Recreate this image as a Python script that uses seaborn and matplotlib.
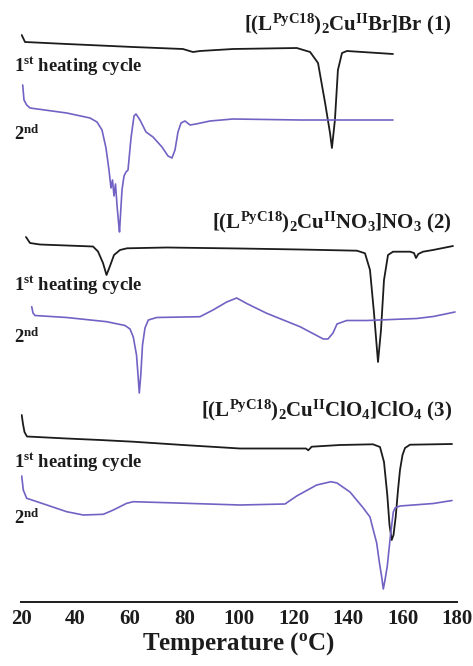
# DSC traces (1st and 2nd heating cycles) for the three Cu(II) complexes.
# Curves are stacked with vertical offsets, so the y values are arbitrary
# heat-flow units (no y axis is shown).

import matplotlib
matplotlib.use("Agg")
import matplotlib.pyplot as plt
import seaborn as sns

# data
# ---

# complex 1, Br
br_1st_T = [20.26, 21.47, 36.8, 61.1, 79.4, 83.1, 85.7, 97.8, 121.2, 126.1,
            129.0, 131.6, 133.4, 134.1, 135.2, 136.3, 137.8, 139.6, 156.5]
br_1st_y = [567, 560, 558, 555, 553, 550, 551, 553, 554, 550,
            539, 499, 469, 454, 482, 532, 549, 551, 548]

br_2nd_T = [20.62, 21.10, 22.09, 23.30, 36.77, 45.32, 47.89, 49.72, 51.19, 52.29,
            53.03, 53.58, 54.13, 54.68, 55.23, 55.78, 56.15, 56.51, 57.06, 57.80,
            58.53, 59.27, 60.37, 61.47, 62.20, 63.67, 65.87, 68.44, 71.74, 73.94,
            75.41, 76.51, 77.61, 78.72, 80.18, 82.02, 84.22, 89.36, 97.80, 122.39,
            156.51]
br_2nd_y = [517, 502, 497, 494, 489, 484, 480, 472, 454, 432,
            414, 422, 406, 418, 397, 380, 370, 387, 412, 426,
            430, 432, 464, 486, 488, 482, 470, 465, 455, 446,
            444, 452, 470, 479, 481, 477, 478, 481, 483, 482,
            482]

# complex 2, NO3
no3_1st_T = [21.83, 23.30, 26.97, 36.77, 46.42, 48.26, 50.09, 51.38, 52.66, 54.13,
             56.33, 58.90, 73.58, 100.37, 122.39, 143.30, 146.24, 148.07, 149.54,
             151.01, 152.11, 153.21, 154.68, 156.51, 162.75, 164.22, 164.95, 165.80,
             167.52, 171.19, 178.53]
no3_1st_y = [365, 359, 357.5, 356.5, 355.5, 350.5, 339, 327, 336, 347,
             352, 353.7, 354.5, 353.5, 352.5, 351.3, 348.7, 332, 289,
             240, 272, 322, 347, 350.3, 350.3, 349, 344, 348,
             350.3, 352, 356]

no3_2nd_T = [23.93, 24.40, 25.14, 36.77, 51.45, 58.17, 60.0, 61.21, 62.39, 62.94,
             63.41, 63.96, 64.59, 65.50, 66.72, 69.80, 85.69, 90.46, 95.49, 99.16,
             102.83, 110.17, 122.39, 130.94, 132.66, 134.50, 135.96, 139.52, 146.86,
             165.21, 171.30, 179.27]
no3_2nd_y = [295.3, 289, 286.5, 284.5, 280.3, 276.5, 273, 265, 247, 227,
             209, 227, 257, 274, 282, 284.5, 285.3, 292, 300, 304,
             298.5, 288.7, 275.3, 263, 263, 269, 278, 281.5, 281.5,
             283.5, 285.5, 290]

# complex 3, ClO4
clo4_1st_T = [20.26, 20.73, 21.28, 22.20, 36.77, 48.99, 61.10, 79.45, 100.37, 124.59,
              125.43, 126.68, 137.06, 149.17, 151.74, 153.21, 154.42, 155.23, 156.04,
              156.70, 157.50, 158.35, 159.08, 160.0, 160.92, 162.75, 178.17]
clo4_1st_y = [187, 178, 170, 165.5, 163.5, 162, 160.3, 157, 153.5, 153.5,
              151.7, 155.3, 157, 157.7, 155, 140, 107, 77, 62,
              67, 85, 112, 132, 147, 154, 157.3, 158]

clo4_2nd_T = [20.26, 20.84, 22.09, 26.97, 36.77, 42.86, 50.20, 53.87, 58.79, 61.21,
              73.47, 100.37, 116.88, 121.17, 128.51, 133.76, 135.96, 140.73, 145.61,
              148.07, 149.28, 150.53, 151.49, 152.37, 152.95, 153.58, 154.42, 155.60,
              156.62, 157.25, 159.08, 171.30, 178.17]
clo4_2nd_y = [126, 112, 103.7, 99.3, 90.3, 87, 87.7, 92, 98.7, 100.3,
              99.3, 97, 98, 106, 117, 120.3, 119, 110, 94,
              85, 72, 59, 40, 25, 13, 22, 36, 67,
              90, 94, 96, 98.5, 101.5]

titles = [
    r"[(L$^{\mathrm{PyC18}}$)$_{\mathrm{2}}$Cu$^{\mathrm{II}}$Br]Br (1)",
    r"[(L$^{\mathrm{PyC18}}$)$_{\mathrm{2}}$Cu$^{\mathrm{II}}$NO$_{\mathrm{3}}$]NO$_{\mathrm{3}}$ (2)",
    r"[(L$^{\mathrm{PyC18}}$)$_{\mathrm{2}}$Cu$^{\mathrm{II}}$ClO$_{\mathrm{4}}$]ClO$_{\mathrm{4}}$ (3)",
]
x_ticks = [20, 40, 60, 80, 100, 120, 140, 160, 180]


# style
# ---

sns.set_style("white")
plt.rcParams["font.family"] = ["Liberation Serif", "DejaVu Serif"]
plt.rcParams["font.weight"] = "bold"
plt.rcParams["mathtext.fontset"] = "custom"
plt.rcParams["mathtext.rm"] = "Liberation Serif:bold"
plt.rcParams["mathtext.it"] = "Liberation Serif:italic:bold"
plt.rcParams["mathtext.bf"] = "Liberation Serif:bold"

black = "#1c1c1c"
purple = "#7262c4"


# plot
# ---

W, H = 473, 666
fig = plt.figure(figsize=(W / 100, H / 100), dpi=100)
ax = fig.add_axes([21 / W, (H - 602) / H, (457 - 21) / W, 602 / H])

for T, y in [(br_1st_T, br_1st_y), (no3_1st_T, no3_1st_y), (clo4_1st_T, clo4_1st_y)]:
    sns.lineplot(x=T, y=y, ax=ax, color=black, lw=1.3, sort=False, estimator=None)
for T, y in [(br_2nd_T, br_2nd_y), (no3_2nd_T, no3_2nd_y), (clo4_2nd_T, clo4_2nd_y)]:
    sns.lineplot(x=T, y=y, ax=ax, color=purple, lw=1.2, sort=False, estimator=None)

ax.set_xlim(20, 180)
ax.set_ylim(0, 602)
ax.set_yticks([])
ax.set_xticks(x_ticks)
ax.set_xticks(range(30, 180, 20), minor=True)
ax.tick_params(axis="x", which="major", direction="inout", length=6, width=1.2,
               labelsize=15, pad=2, colors=black)
ax.tick_params(axis="x", which="minor", direction="inout", length=4, width=1.0,
               colors=black)
for s in ["left", "right", "top"]:
    ax.spines[s].set_visible(False)
ax.spines["bottom"].set_linewidth(1.4)
ax.spines["bottom"].set_color(black)
ax.set_xlabel(r"Temperature ($^{\mathrm{o}}$C)", fontsize=18, fontweight="bold",
              labelpad=1, color=black)

# compound names (right aligned) and cycle labels, placed in pixel positions
title_y = [24, 222, 410]
first_y = [66, 285, 462]
second_y = [134, 337, 518]
for t, ty, fy, sy in zip(titles, title_y, first_y, second_y):
    fig.text(452 / W, 1 - ty / H, t, ha="right", va="center", fontsize=15,
             fontweight="bold", color=black)
    fig.text(14 / W, 1 - fy / H, r"1$^{\mathrm{st}}$ heating cycle", ha="left",
             va="center", fontsize=13.4, fontweight="bold", color=black)
    fig.text(14 / W, 1 - sy / H, r"2$^{\mathrm{nd}}$", ha="left", va="center",
             fontsize=13.4, fontweight="bold", color=black)

fig.savefig("out.png", dpi=100)
plt.close(fig)
